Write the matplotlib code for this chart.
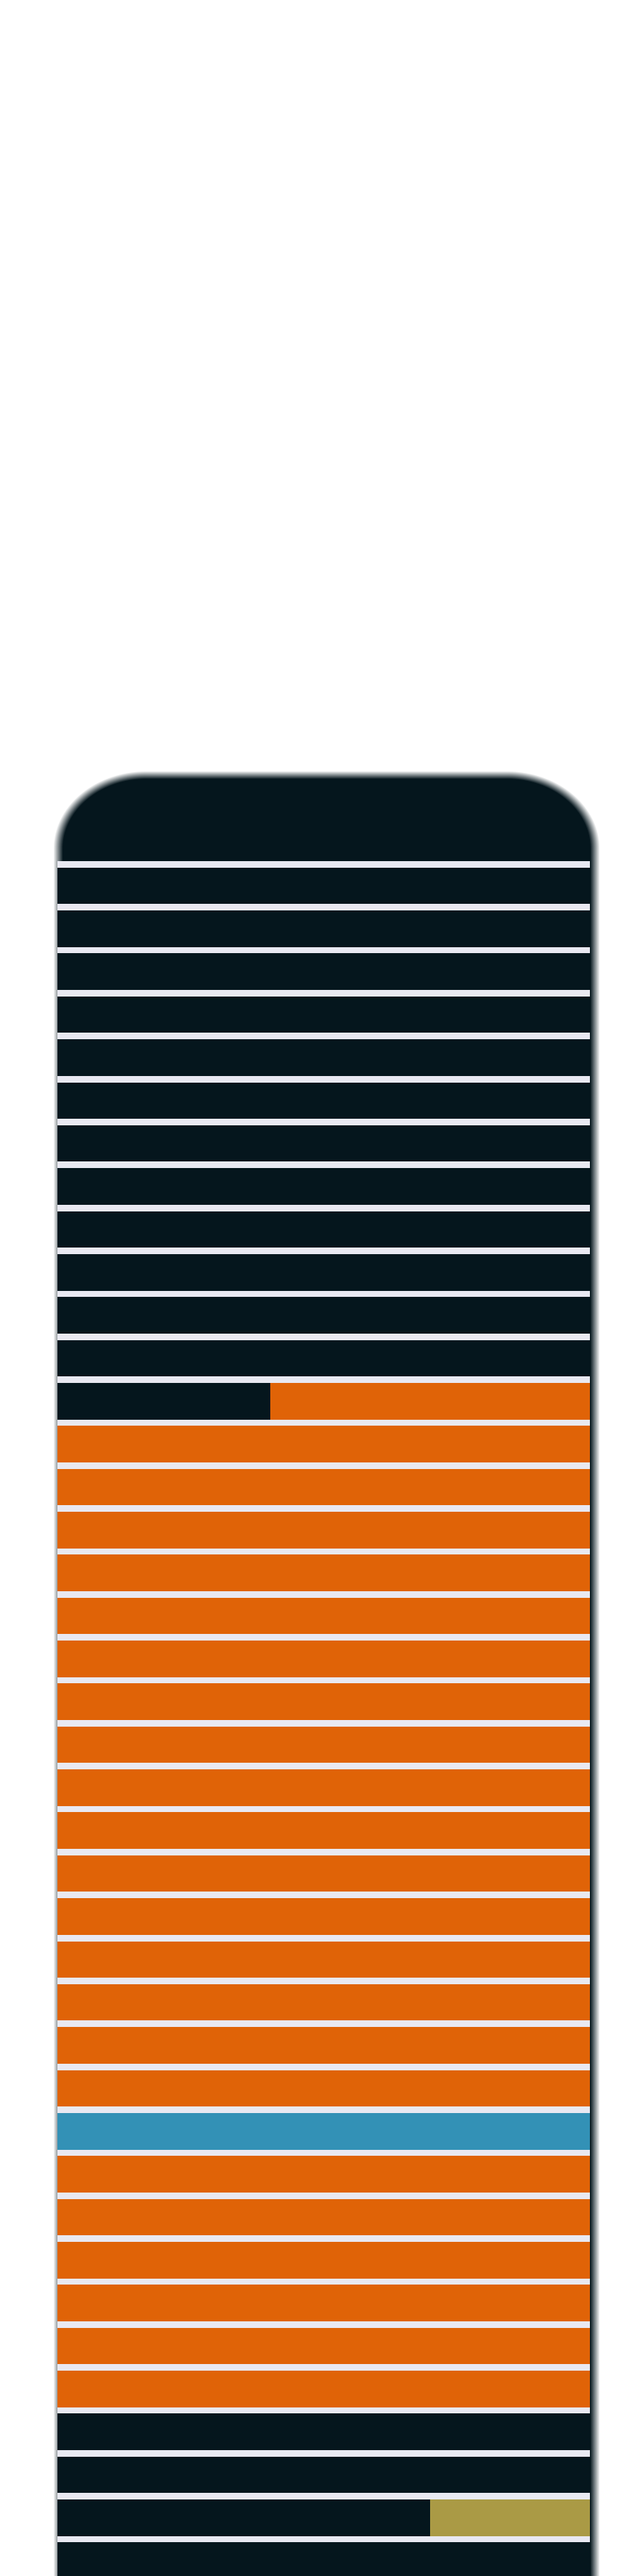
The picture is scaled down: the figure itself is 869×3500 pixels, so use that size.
import numpy as np
import matplotlib.pyplot as plt

# one row per bar, top to bottom; each row is a share of 1.0
rows = np.arange(40)
dark = [1, 1, 1, 1, 1, 1, 1, 1, 1, 1, 1, 1, 0.40,
        0, 0, 0, 0, 0, 0, 0, 0, 0, 0, 0, 0, 0, 0, 0, 0,
        0, 0, 0, 0, 0, 0, 0, 1, 1, 0.70, 1]
orange = [0, 0, 0, 0, 0, 0, 0, 0, 0, 0, 0, 0, 0.60,
          1, 1, 1, 1, 1, 1, 1, 1, 1, 1, 1, 1, 1, 1, 1, 1,
          0, 1, 1, 1, 1, 1, 1, 0, 0, 0, 0]
blue = [0, 0, 0, 0, 0, 0, 0, 0, 0, 0, 0, 0, 0,
        0, 0, 0, 0, 0, 0, 0, 0, 0, 0, 0, 0, 0, 0, 0, 0,
        1, 0, 0, 0, 0, 0, 0, 0, 0, 0, 0]
olive = [0, 0, 0, 0, 0, 0, 0, 0, 0, 0, 0, 0, 0,
         0, 0, 0, 0, 0, 0, 0, 0, 0, 0, 0, 0, 0, 0, 0, 0,
         0, 0, 0, 0, 0, 0, 0, 0, 0, 0.30, 0]

series = [dark, orange, blue, olive]
colors = ["#05161d", "#e06307", "#3391b6", "#aa9a45"]

W, H = 870, 3500
fig = plt.figure(figsize=(W / 100, H / 100), dpi=100)
fig.patch.set_facecolor("white")

# soft dark rounded backdrop behind the bars
bg = fig.add_axes([0, 0, 1, 1])
yy, xx = np.mgrid[0:H, 0:W] + 0.5
left_e, right_e, top_e, bot_e = 79.0, 808.0, 1053.0, 3800.0
rx, ry = 120.0, 100.0
k = rx / ry
cx, hx = (left_e + right_e) / 2, (right_e - left_e) / 2
cy, hy = (top_e + bot_e) / 2 * k, (bot_e - top_e) / 2 * k
qx = np.abs(xx - cx) - (hx - rx)
qy = np.abs(yy * k - cy) - (hy - rx)
d = np.hypot(np.maximum(qx, 0), np.maximum(qy, 0)) + np.minimum(np.maximum(qx, qy), 0) - rx
alpha = np.clip(0.5 - d / 13.0, 0, 1)
img = np.zeros((H, W, 4))
img[..., :3] = np.array([5, 22, 29]) / 255.0
img[..., 3] = alpha
bg.imshow(img, extent=(0, W, H, 0), aspect="auto", interpolation="nearest")
bg.set_xlim(0, W)
bg.set_ylim(H, 0)
bg.axis("off")

ax = fig.add_axes([78 / W, 0, 723 / W, (H - 1170) / H])
ax.set_facecolor("#e9e9f2")
start = np.zeros(len(rows))
for vals, c in zip(series, colors):
    vals = np.array(vals, dtype=float)
    ax.barh(rows, vals, left=start, height=0.85, color=c, linewidth=0)
    start += vals

ax.set_xlim(0, 1)
ax.set_ylim(39.356, -0.575)
ax.set_xticks([])
ax.set_yticks([])
for s in ax.spines.values():
    s.set_visible(False)

fig.savefig("out.png", dpi=100)
